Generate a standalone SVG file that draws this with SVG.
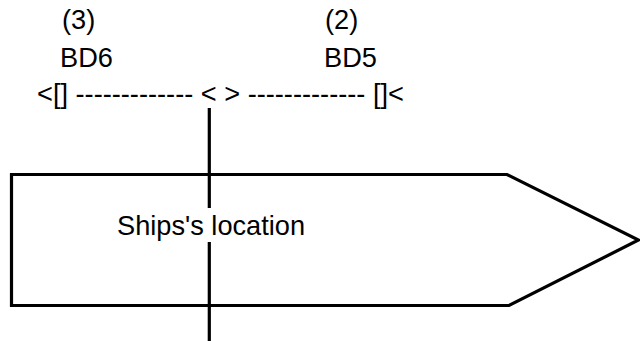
<svg xmlns="http://www.w3.org/2000/svg" width="640" height="341" viewBox="0 0 640 341">
<style>
.t{font-family:"Liberation Sans",Arial,sans-serif;font-size:27.2px;fill:#000}
.ln{stroke:#000;stroke-width:3.2;fill:none}
</style>
<rect width="640" height="341" fill="#fff"/>
<g id="ship">
<polygon class="ln" stroke-width="3.5" points="11.5,174.5 507,174.5 638.5,240 509,305.5 11.5,305.5"/>
<text class="t" x="117" y="234.5" font-size="29">Ships's location</text>
</g>
<g id="bd6">
<text class="t" x="62" y="29">(3)</text>
<text class="t" x="60" y="67" font-size="28">BD6</text>
</g>
<g id="bd5">
<text class="t" x="325" y="29">(2)</text>
<text class="t" x="324" y="67" font-size="28">BD5</text>
</g>
<g id="range">
<text class="t" x="37" y="103" xml:space="preserve">&lt;[] ------------- &lt; &gt; ------------- []&lt;</text>
</g>
<g id="connectors">
<line class="ln" x1="209.3" y1="108" x2="209.3" y2="208"/>
<line class="ln" x1="209.3" y1="242" x2="209.3" y2="341"/>
</g>
</svg>
